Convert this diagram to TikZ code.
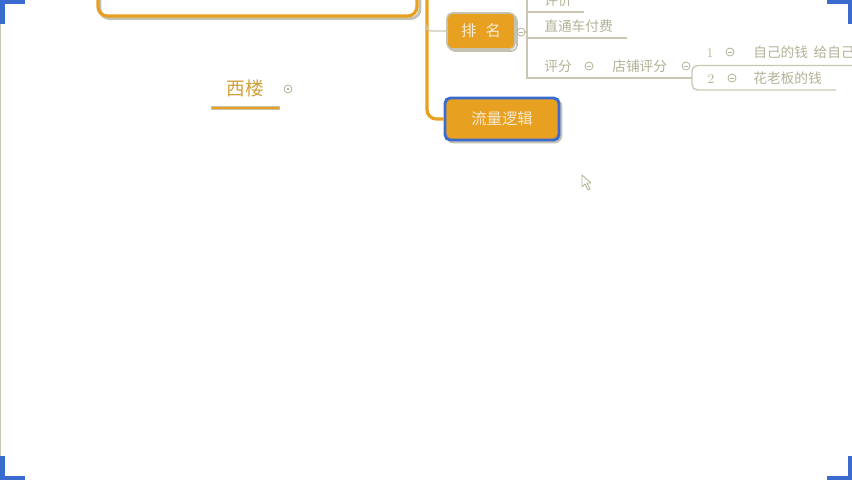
\documentclass[tikz,border=0pt]{standalone}
\usepackage{fontspec}
\newfontfamily\cjk{Noto Sans CJK SC}
\usetikzlibrary{calc}
\definecolor{topicorange}{HTML}{E8A021}
\definecolor{selblue}{HTML}{3A6CCF}
\definecolor{linegray}{HTML}{C9C7B1}
\definecolor{textgray}{HTML}{B3B196}
\definecolor{shadowgray}{HTML}{C4C2B0}
\definecolor{topictext}{HTML}{F3EBD6}
\definecolor{floattext}{HTML}{D2A03A}
\tikzset{
  topicbox/.style={draw=shadowgray, line width=1.2pt, fill=topicorange, rounded corners=4pt,
    text=topictext, font=\cjk\fontsize{11.5pt}{12pt}\selectfont, inner sep=0pt},
  leaf/.style={text=textgray, font=\cjk\fontsize{10.3pt}{12pt}\selectfont, inner sep=0pt},
  numlabel/.style={text=textgray, font=\fontsize{10pt}{12pt}\selectfont, inner sep=0pt},
  fold/.style={circle, draw=textgray, line width=0.6pt, minimum size=6pt, inner sep=0pt,
    path picture={\draw[textgray, line width=0.6pt] ([xshift=-1.6pt]path picture bounding box.center) -- ([xshift=1.6pt]path picture bounding box.center);}},
  branch/.style={linegray, line width=1.5pt},
  corner/.style={fill=selblue, draw=none}
}
\begin{document}
\begin{tikzpicture}[x=0.75pt, y=-0.75pt]
\useasboundingbox (0,0) rectangle (852,480);
\clip (0,0) rectangle (852,480);

% frame edge on the left
\draw[linegray, line width=0.8pt] (0.5,24) -- (0.5,456);

% blue corner marks
\fill[corner] (0,0) rectangle (25,4);
\fill[corner] (0,0) rectangle (5,24);
\fill[corner] (0,456) rectangle (5,480);
\fill[corner] (0,476) rectangle (25,480);
\fill[corner] (827,0) rectangle (852,4);
\fill[corner] (848,0) rectangle (852,24);
\fill[corner] (848,456) rectangle (852,480);
\fill[corner] (827,476) rectangle (852,480);

% parent topic frame (upper part runs off the page)
\draw[shadowgray, line width=2.2pt, rounded corners=7pt] (100,-40) rectangle (420,18.5);
\draw[topicorange, line width=2.4pt, rounded corners=7pt] (98,-40) rectangle (417,16);
\coordinate (trunk) at (427,-2);
\coordinate (fork) at (427,30);

% main topics
\draw[shadowgray, line width=1.2pt, rounded corners=4pt] (449,15) rectangle (517,51);
\node[topicbox, minimum width=68*0.75pt, minimum height=36*0.75pt] (rank) at (481,31) {排\hspace{0.6em}名};

\draw[shadowgray, line width=2pt, rounded corners=5pt] (447,100) rectangle (561,142);
\node[topicbox, draw=selblue, line width=2.2pt, minimum width=114*0.75pt, minimum height=42*0.75pt] (logic) at (502,119) {流量逻辑};

% trunk from the parent topic
\draw[topicorange, line width=2.4pt, rounded corners=7pt] (trunk) |- (logic.west);
\draw[linegray, line width=0.9pt, rounded corners=3pt] (fork) -- ($(fork)+(0,1)$) -- (rank.west);

% children of the first topic
\node[fold] (rankfold) at (521,32) {};
\coordinate (spine) at (527,-2);
\node[leaf, anchor=base west] (pj) at (544,5) {评价};
\node[leaf, anchor=base west] (ztc) at (544,31) {直通车付费};
\node[leaf, anchor=base west] (pf) at (544,71) {评分};
\node[fold] (pffold) at (589,66) {};
\node[leaf, anchor=base west] (dppf) at (612,71) {店铺评分};
\node[fold] (dpfold) at (686,66) {};

\draw[branch, line width=1pt] (spine) -- (527,78) -- (692,78);
\draw[branch, line width=1pt] (527,12) -- (584,12);
\draw[branch, line width=1pt] (527,38) -- (627,38);
\draw[linegray, line width=0.8pt] (rankfold.east) -- (527,32);

% grandchildren group
\draw[branch, line width=1pt, rounded corners=4pt] (860,65.5) -- (692,65.5) -- (692,90) -- (836,90);
\node[numlabel, anchor=base] (n1) at (710,57) {1};
\node[fold] (f1) at (730,52) {};
\node[leaf, anchor=base west] (own) at (753,57) {自己的钱\hspace{0.4em}给自己};
\node[numlabel, anchor=base] (n2) at (711,83) {2};
\node[fold] (f2) at (732,78) {};
\node[leaf, anchor=base west] (boss) at (753,83) {花老板的钱};

% floating topic
\node[text=floattext, font=\cjk\fontsize{14pt}{16pt}\selectfont, inner sep=0pt] (xilou) at (245,88) {西楼};
\draw[shadowgray, line width=3pt] (211,108) -- (280,108);
\draw[topicorange, line width=1.6pt] (212,108) -- (279,108);
\node[circle, draw=textgray, line width=0.6pt, minimum size=6pt, inner sep=0pt] (xfold) at (288,89) {};
\fill[textgray] (xfold.center) circle (1pt);

% mouse pointer
\draw[textgray, fill=white, line width=0.6pt, line join=round]
  (582,175) -- (582,187) -- (585,184) -- (588,190) -- (590,189) -- (587,183) -- (591,183) -- cycle;
\end{tikzpicture}
\end{document}
